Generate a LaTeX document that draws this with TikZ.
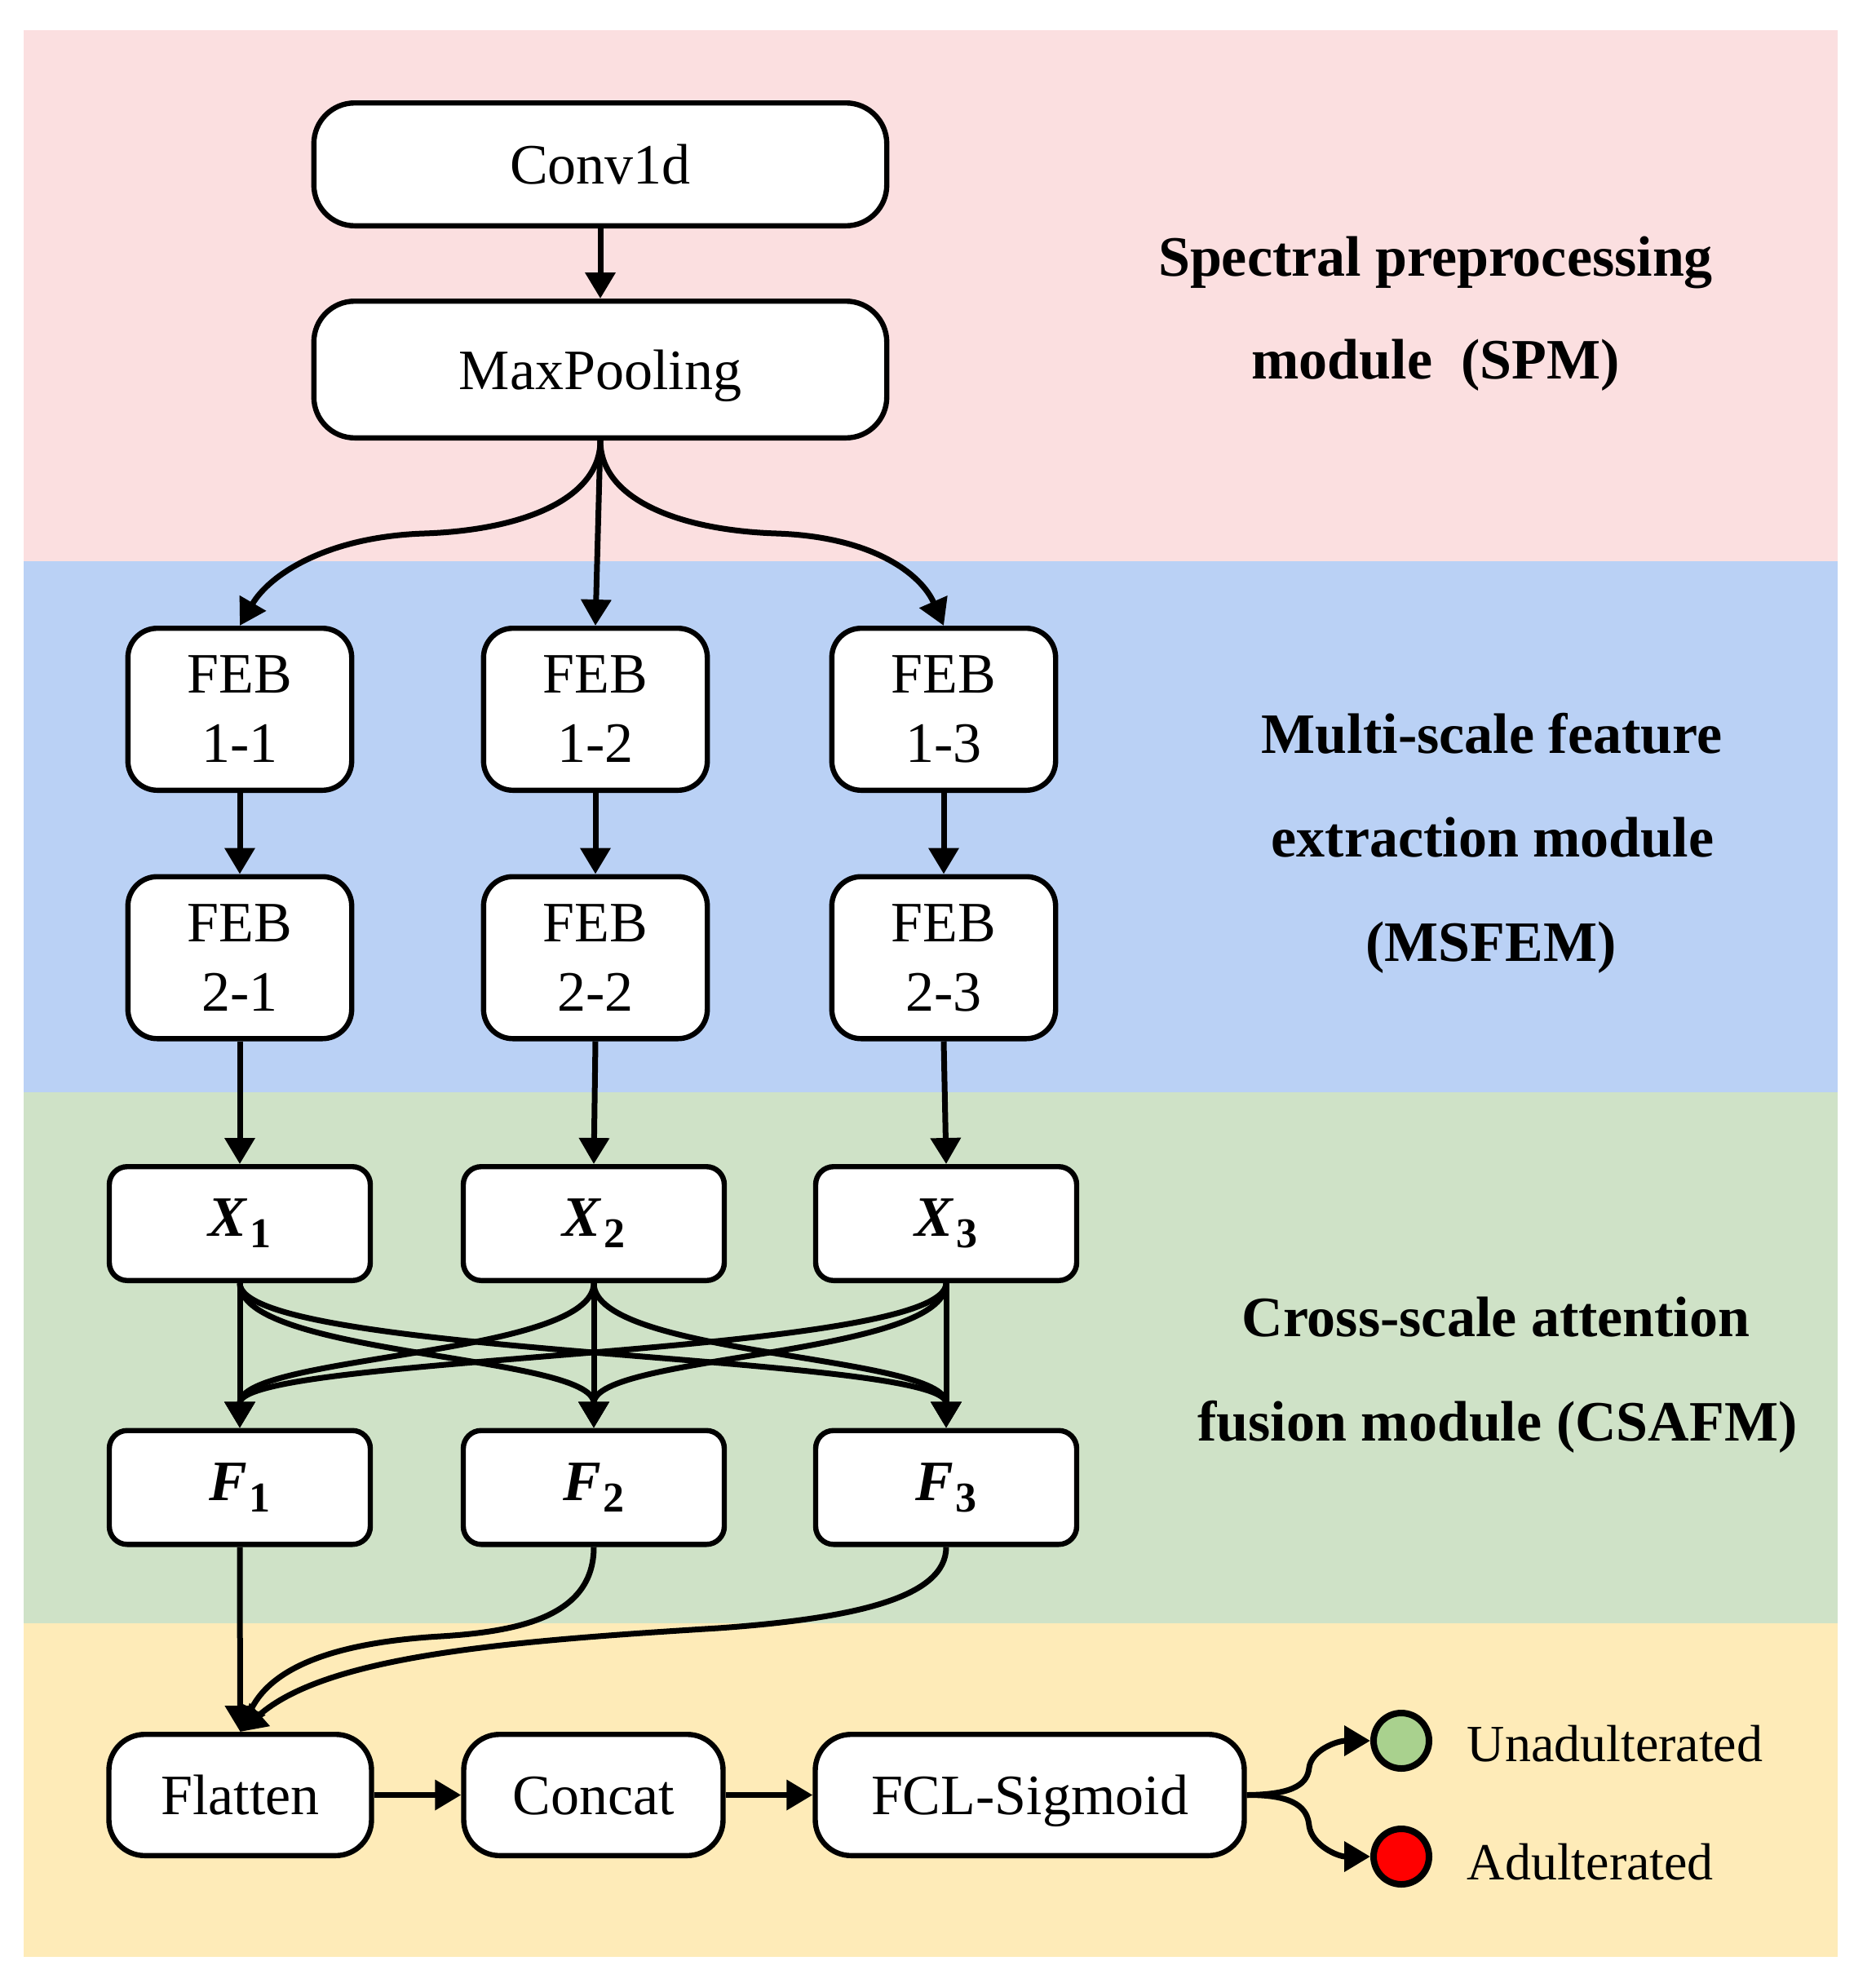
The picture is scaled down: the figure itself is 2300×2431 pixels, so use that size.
\documentclass[tikz,border=0pt]{standalone}
\usepackage{fontspec}
\setmainfont{Liberation Serif}
\usetikzlibrary{arrows.meta,calc}
\definecolor{bgpink}{RGB}{251,223,224}
\definecolor{bgblue}{RGB}{186,209,245}
\definecolor{bggreen}{RGB}{207,226,199}
\definecolor{bgyellow}{RGB}{254,235,184}
\definecolor{dotgreen}{RGB}{169,209,142}
\definecolor{dotred}{RGB}{255,0,0}
\newcommand\myvarsub[2]{\textbf{\textit{#1}}\hspace{0.6pt}\raisebox{-3.5pt}{\fontsize{13pt}{13pt}\selectfont\bfseries #2}}
\begin{document}
\begin{tikzpicture}[x=0.25pt,y=-0.25pt,
  box/.style={draw=black,line width=1.6pt,fill=white,inner sep=0pt,align=center,
    font=\fontsize{17.5pt}{21.25pt}\selectfont},
  topbox/.style={box,minimum width=175.6pt,rounded corners=12.5pt,text height=12pt,text depth=0pt},
  febbox/.style={box,minimum width=68.6pt,minimum height=49.65pt,rounded corners=9pt},
  xbox/.style={box,minimum width=80pt,minimum height=34.9pt,rounded corners=5.5pt},
  botbox/.style={box,minimum height=37.15pt,rounded corners=11pt,text height=12pt,text depth=0pt},
  arr/.style={line width=1.75pt,-{Triangle[length=8pt,width=9pt]}},
  modtext/.style={font=\fontsize{17.5pt}{21pt}\selectfont\bfseries,anchor=base,inner sep=0pt},
  lab/.style={font=\fontsize{16pt}{19pt}\selectfont,anchor=base west,inner sep=0pt},
  dot/.style={circle,draw=black,line width=2pt,minimum size=17pt,inner sep=0pt}
]
\useasboundingbox (0,0) rectangle (2300,2431);
% background bands
\fill[bgpink]   (29,37)   rectangle (2253,688);
\fill[bgblue]   (29,688)  rectangle (2253,1339);
\fill[bggreen]  (29,1339) rectangle (2253,1990);
\fill[bgyellow] (29,1990) rectangle (2253,2399);

% top boxes
\node[topbox,minimum height=37.65pt] (conv) at (736,201.5) {Conv1d};
\node[topbox,minimum height=41.9pt] (mp) at (736,453) {MaxPooling};

% FEB boxes
\node[febbox] (f11) at (294,869.5) {FEB\\1-1};
\node[febbox] (f12) at (730,869.5) {FEB\\1-2};
\node[febbox] (f13) at (1157,869.5) {FEB\\1-3};
\node[febbox] (f21) at (294,1174) {FEB\\2-1};
\node[febbox] (f22) at (730,1174) {FEB\\2-2};
\node[febbox] (f23) at (1157,1174) {FEB\\2-3};

% X and F boxes
\node[xbox] (x1) at (294,1500) {\myvarsub{X}{1}};
\node[xbox] (x2) at (728,1500) {\myvarsub{X}{2}};
\node[xbox] (x3) at (1160,1500) {\myvarsub{X}{3}};
\node[xbox] (F1) at (294,1823.5) {\myvarsub{F}{1}};
\node[xbox] (F2) at (728,1823.5) {\myvarsub{F}{2}};
\node[xbox] (F3) at (1160,1823.5) {\myvarsub{F}{3}};

% bottom row
\node[botbox,minimum width=80.5pt] (flat) at (294.5,2200.5) {Flatten};
\node[botbox,minimum width=79.5pt] (cat) at (727.5,2200.5) {Concat};
\node[botbox,minimum width=131.5pt] (fcl) at (1262.5,2200.5) {FCL-Sigmoid};

% output dots and labels
\node[dot,fill=dotgreen] (g) at (1718,2134) {};
\node[dot,fill=dotred] (r) at (1718,2276) {};
\node[lab] (lg) at (1798,2159) {Unadulterated};
\node[lab] (lr) at (1798,2304) {Adulterated};

% module texts
\node[modtext] (spm1) at (1760,338) {Spectral preprocessing};
\node[modtext] (spm2) at (1760,464) {module\ \ (SPM)};
\node[modtext] (ms1) at (1829,923) {Multi-scale feature};
\node[modtext] (ms2) at (1830,1050) {extraction module};
\node[modtext] (ms3) at (1828,1178) {(MSFEM)};
\node[modtext] (cs1) at (1834,1638) {Cross-scale attention};
\node[modtext] (cs2) at (1836,1766) {fusion module (CSAFM)};

% connectors
\draw[arr] (conv.south) -- (mp.north);
\draw[arr] (mp.south) -- (f12.north);
\draw[arr] (mp.south) .. controls (736,612) and (640,650) .. (520,654)
           .. controls (400,658) and (330,705) .. (f11.north);
\draw[arr] (mp.south) .. controls (736,612) and (832,650) .. (952,654)
           .. controls (1072,658) and (1130,705) .. (f13.north);
\draw[arr] (f11.south) -- (f21.north);
\draw[arr] (f12.south) -- (f22.north);
\draw[arr] (f13.south) -- (f23.north);
\draw[arr] (f21.south) -- (x1.north);
\draw[arr] (f22.south) -- (x2.north);
\draw[arr] (f23.south) -- (x3.north);

% cross-scale connections
\foreach \s/\t in {x1/F1,x2/F2,x3/F3}{
  \draw[arr] (\s.south) -- (\t.north);
}
\foreach \s/\t in {x1/F2,x1/F3,x2/F1,x2/F3,x3/F1,x3/F2}{
  \draw[arr] (\s.south) .. controls ($(\s.south)+(0,90)$) and ($(\t.north)+(0,-90)$) .. (\t.north);
}

% to flatten
\draw[arr] (F1.south) -- (flat.north);
\draw[arr] (F2.south) .. controls (728,1980) and (640,2000) .. (540,2006)
           .. controls (420,2013) and (335,2040) .. (flat.north);
\draw[arr] (F3.south) .. controls (1160,1958) and (1050,1984) .. (880,1996)
           .. controls (620,2012) and (400,2030) .. (flat.north);

% bottom row arrows
\draw[arr] (flat.east) -- (cat.west);
\draw[arr] (cat.east) -- (fcl.west);
\draw[arr] (fcl.east) .. controls (1590,2200) and (1603,2185) .. (1605,2167)
           .. controls (1608,2145) and (1640,2134) .. (g.west);
\draw[arr] (fcl.east) .. controls (1590,2200) and (1603,2218) .. (1605,2238)
           .. controls (1608,2262) and (1640,2276) .. (r.west);
\end{tikzpicture}
\end{document}
